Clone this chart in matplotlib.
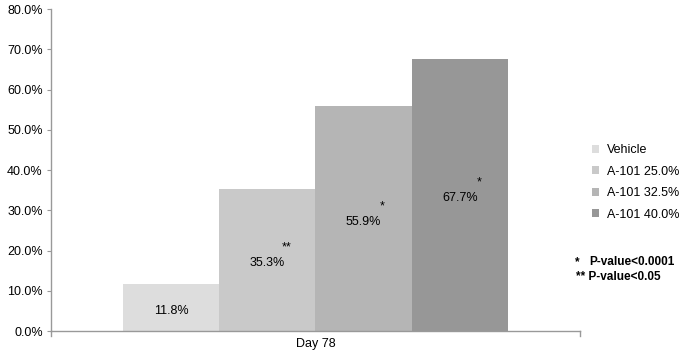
import matplotlib.pyplot as plt
import numpy as np

plt.rcParams['font.family'] = ['Liberation Sans', 'DejaVu Sans']

groupes = ["Vehicle", "A-101 25.0%", "A-101 32.5%", "A-101 40.0%"]
valeurs = [11.8, 35.3, 55.9, 67.7]
etoiles = ["", "**", "*", "*"]
couleurs = ["#dddddd", "#c9c9c9", "#b5b5b5", "#979797"]
categorie = "Day 78"

fig = plt.figure(figsize=(6.82, 3.55), dpi=100)
ax = fig.add_axes([0.0748, 0.0676, 0.7756, 0.907])

largeur = 0.182
x0 = -1.5 * largeur
for i, (g, v, e, c) in enumerate(zip(groupes, valeurs, etoiles, couleurs)):
    x = x0 + i * largeur
    ax.bar(x, v, width=largeur, color=c, label=g, linewidth=0)
    # étiquette au milieu de la barre (un peu plus bas)
    ax.annotate(f"{v:.1f}%", (x, v / 2), xytext=(0, -2.5), textcoords='offset points',
                ha='center', va='center', fontsize=9)
    if e:
        ax.annotate(e, (x, v / 2), xytext=(13.7, 9), textcoords='offset points',
                    ha='center', va='center', fontsize=9)

ax.set_xlim(-0.5, 0.5)
ax.set_ylim(0, 80)
ax.set_yticks(np.arange(0, 81, 10))
ax.set_yticklabels([f"{t:.1f}%" for t in range(0, 81, 10)], fontsize=9)
ax.set_xticks([0])
ax.set_xticklabels([categorie], fontsize=9)
ax.tick_params(axis='x', length=0, pad=5)
ax.tick_params(axis='y', length=3, color='#999999', pad=3)
# petites graduations aux extrémités de l'axe x
for xt in (-0.5, 0.5):
    ax.plot([xt, xt], [0, -1.2], color='#999999', lw=1, clip_on=False)

for s in ('top', 'right'):
    ax.spines[s].set_visible(False)
for s in ('left', 'bottom'):
    ax.spines[s].set_color('#999999')
    ax.spines[s].set_linewidth(1)

leg = ax.legend(loc='upper left', bbox_to_anchor=(1.013, 0.595), frameon=False,
                fontsize=9, handlelength=0.6, handleheight=0.6, handletextpad=0.6,
                labelspacing=0.75, borderaxespad=0)

fig.text(0.843, 0.262, "*", fontsize=8.5, fontweight='bold', va='center')
fig.text(0.864, 0.262, "P-value<0.0001", fontsize=8.5, fontweight='bold', va='center')
fig.text(0.845, 0.22, "** P-value<0.05", fontsize=8.5, fontweight='bold', va='center')

fig.savefig("out.png", dpi=100)
